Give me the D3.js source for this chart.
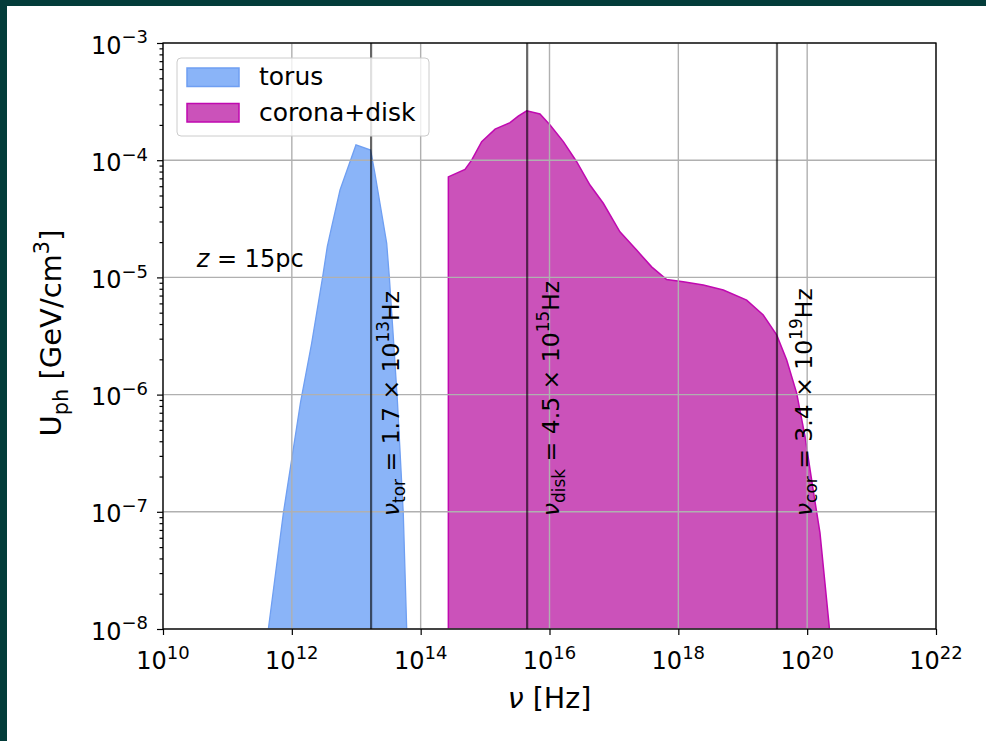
<!DOCTYPE html>
<html><head><meta charset="utf-8">
<script src="https://cdn.jsdelivr.net/npm/d3@7"></script>
<style>
html,body{margin:0;padding:0;background:#fff;}
svg{display:block;font-family:"DejaVu Sans",sans-serif;}
</style></head><body>
<svg id="chart" width="986" height="741"></svg>
<script>
// Photon energy density spectra (upper envelope of each filled band)
const torusNu = [3.7e11, 4.32e11, 7.38e11, 1.36e12, 2.03e12, 3.01e12, 3.55e12, 4.16e12, 5.60e12, 8.00e12, 9.9e12,
                 1.67e13, 1.95e13, 2.48e13, 2.97e13, 3.26e13, 3.76e13, 4.37e13, 5.37e13, 6.07e13, 6.3e13];
const torusU  = [5e-9, 1.0e-8, 9.7e-8, 8.5e-7, 2.74e-6, 1.01e-5, 1.83e-5, 2.71e-5, 5.57e-5, 9.7e-5, 1.35e-4,
                 1.22e-4, 7.7e-5, 3.52e-5, 1.95e-5, 1.01e-5, 3.12e-6, 8.5e-7, 9.7e-8, 1.0e-8, 5e-9];

const coronaNu = [2.69e14, 4.88e14, 6.19e14, 8.85e14, 1.43e15, 2.44e15, 3.27e15, 4.43e15, 7.11e15, 1.02e16,
                  1.64e16, 2.64e16, 4.25e16, 6.84e16, 1.24e17, 2.25e17, 3.85e17, 6.59e17, 1.19e18, 2.44e18,
                  4.99e18, 1.15e19, 2.08e19, 3.36e19, 4.81e19, 6.87e19, 9.25e19, 1.24e20, 1.58e20, 1.89e20,
                  2.20e20, 2.29e20];
const coronaU  = [7.2e-5, 8.35e-5, 1.0e-4, 1.44e-4, 1.84e-4, 2.09e-4, 2.38e-4, 2.64e-4, 2.48e-4, 2.0e-4,
                  1.44e-4, 9.7e-5, 6.14e-5, 4.29e-5, 2.45e-5, 1.71e-5, 1.23e-5, 9.6e-6, 9.2e-6, 8.6e-6,
                  7.8e-6, 6.4e-6, 4.78e-6, 3.23e-6, 1.97e-6, 1.03e-6, 4.4e-7, 1.53e-7, 6.6e-8, 2.45e-8,
                  1.05e-8, 5e-9];

// Characteristic frequencies
const peakNames = ["tor", "disk", "cor"];
const peakNu = [1.7e13, 4.5e15, 3.4e19];
const peakMantissa = ["1.7", "4.5", "3.4"];
const peakExponent = ["13", "15", "19"];
const peakLabelNu = [4.6e13, 1.4e16, 1.17e20];
const peakLabelU = 9.2e-8;

// Axis ticks
const xTicks = [1e10, 1e12, 1e14, 1e16, 1e18, 1e20, 1e22];
const xTickExp = ["10", "12", "14", "16", "18", "20", "22"];
const yTicks = [1e-8, 1e-7, 1e-6, 1e-5, 1e-4, 1e-3];
const yTickExp = ["\u22128", "\u22127", "\u22126", "\u22125", "\u22124", "\u22123"];

const seriesNames = ["torus", "corona+disk"];
const distanceLabel = {nu: 3.33e10, u: 1.22e-5};

const svg = d3.select("#chart");
const W = 986, H = 741;
const L = 163, R = 936, T = 43, B = 629;

// dark page frame on top and left
svg.append("rect").attr("x", 0).attr("y", 0).attr("width", W).attr("height", H).attr("fill", "#033c3a");
svg.append("rect").attr("x", 7).attr("y", 6).attr("width", W - 7).attr("height", H - 6).attr("fill", "#ffffff");

const x = d3.scaleLog().domain([1e10, 1e22]).range([L, R]);
const y = d3.scaleLog().domain([1e-8, 1e-3]).range([B, T]);

svg.append("defs").append("clipPath").attr("id", "plotclip")
  .append("rect").attr("x", L).attr("y", T).attr("width", R - L).attr("height", B - T);

const plot = svg.append("g").attr("clip-path", "url(#plotclip)");

// helper for mathtext-like labels
function mtext(sel, parts, fs, supScale) {
  const sc = supScale || 0.72;
  let shift = 0;
  parts.forEach(p => {
    let target = 0, size = fs;
    if (p.k === "sup") { target = -0.42 * fs; size = sc * fs; }
    else if (p.k === "sub") { target = 0.24 * fs; size = 0.72 * fs; }
    const ts = sel.append("tspan").text(p.t).attr("font-size", size);
    if (target - shift !== 0) ts.attr("dy", target - shift);
    if (p.k === "it") ts.attr("font-style", "italic");
    shift = target;
  });
}

// filled spectra
const floorU = 1e-10;
const area = d3.area().x(d => x(d[0])).y0(y(floorU)).y1(d => y(d[1]));
const torusPts = torusNu.map((v, i) => [v, torusU[i]]);
const coronaPts = coronaNu.map((v, i) => [v, coronaU[i]]);

const torusFill = "#8ab4f8", torusEdge = "#6f9ff2";
const coronaFill = "#cb52ba", coronaEdge = "#c009b0";

plot.append("path").datum(torusPts).attr("d", area)
  .attr("fill", torusFill).attr("stroke", torusEdge).attr("stroke-width", 1.3);
plot.append("path").datum(coronaPts).attr("d", area)
  .attr("fill", coronaFill).attr("stroke", coronaEdge).attr("stroke-width", 1.5);

// grid
const grid = svg.append("g");
xTicks.forEach(v => grid.append("line").attr("x1", x(v)).attr("x2", x(v)).attr("y1", T).attr("y2", B)
  .attr("stroke", "#b0b0b0").attr("stroke-width", 1.4));
yTicks.forEach(v => grid.append("line").attr("x1", L).attr("x2", R).attr("y1", y(v)).attr("y2", y(v))
  .attr("stroke", "#b0b0b0").attr("stroke-width", 1.4));

// vertical markers
peakNu.forEach(v => svg.append("line").attr("x1", x(v)).attr("x2", x(v)).attr("y1", T).attr("y2", B)
  .attr("stroke", "#000").attr("stroke-opacity", 0.6).attr("stroke-width", 2.2));

// marker labels
peakNames.forEach((n, i) => {
  const t = svg.append("text")
    .attr("transform", `translate(${x(peakLabelNu[i])},${y(peakLabelU)}) rotate(-90)`)
    .attr("text-anchor", "start").attr("fill", "#000");
  mtext(t, [{t: "\u03bd", k: "it"}, {t: n, k: "sub"}, {t: " = " + peakMantissa[i] + " \u00d7 10"},
            {t: peakExponent[i], k: "sup"}, {t: "Hz"}], 23.5);
});

// distance annotation
{
  const t = svg.append("text").attr("x", x(distanceLabel.nu)).attr("y", y(distanceLabel.u)).attr("fill", "#000");
  mtext(t, [{t: "z", k: "it"}, {t: " = 15pc"}], 24);
}

// axes
const axB = svg.append("g").attr("transform", `translate(0,${B})`)
  .call(d3.axisBottom(x).tickValues(xTicks).tickFormat("").tickSize(6));
const yMinor = [];
for (let d = -8; d < -3; d++) for (let k = 2; k <= 9; k++) yMinor.push(k * Math.pow(10, d));
const axLm = svg.append("g").attr("transform", `translate(${L},0)`)
  .call(d3.axisLeft(y).tickValues(yMinor).tickFormat("").tickSize(3.5));
const axL = svg.append("g").attr("transform", `translate(${L},0)`)
  .call(d3.axisLeft(y).tickValues(yTicks).tickFormat("").tickSize(6));
[axB, axLm, axL].forEach(a => {
  a.select(".domain").remove();
  a.selectAll(".tick line").attr("stroke", "#000").attr("stroke-width", 1.2);
});

// frame
svg.append("rect").attr("x", L).attr("y", T).attr("width", R - L).attr("height", B - T)
  .attr("fill", "none").attr("stroke", "#000").attr("stroke-width", 1.3);

// tick labels
xTicks.forEach((v, i) => {
  const t = svg.append("text").attr("x", x(v)).attr("y", B + 40).attr("text-anchor", "middle").attr("fill", "#000");
  mtext(t, [{t: "10"}, {t: xTickExp[i], k: "sup"}], 24, 0.75);
});
yTicks.forEach((v, i) => {
  const t = svg.append("text").attr("x", L - 15).attr("y", y(v) + 10.5).attr("text-anchor", "end").attr("fill", "#000");
  mtext(t, [{t: "10"}, {t: yTickExp[i], k: "sup"}], 24, 0.75);
});

// axis titles
{
  const t = svg.append("text").attr("x", (L + R) / 2).attr("y", 708).attr("text-anchor", "middle").attr("fill", "#000");
  mtext(t, [{t: "\u03bd", k: "it"}, {t: " [Hz]"}], 28.5);
  const u = svg.append("text").attr("transform", `translate(61,${333}) rotate(-90)`)
    .attr("text-anchor", "middle").attr("fill", "#000");
  mtext(u, [{t: "U"}, {t: "ph", k: "sub"}, {t: " [GeV/cm"}, {t: "3", k: "sup"}, {t: "]"}], 29);
}

// legend
{
  const g = svg.append("g");
  g.append("rect").attr("x", 177).attr("y", 58).attr("width", 252).attr("height", 78).attr("rx", 4)
    .attr("fill", "#fff").attr("fill-opacity", 0.8).attr("stroke", "#cccccc").attr("stroke-width", 1);
  const fills = [torusFill, coronaFill], edges = [torusEdge, coronaEdge];
  const rowY = [68, 103.5];
  seriesNames.forEach((n, i) => {
    g.append("rect").attr("x", 187).attr("y", rowY[i]).attr("width", 52).attr("height", 18.5)
      .attr("fill", fills[i]).attr("stroke", edges[i]).attr("stroke-width", 1.5);
    g.append("text").attr("x", 259).attr("y", rowY[i] + 17).attr("font-size", 25).attr("fill", "#000").text(n);
  });
}
</script>
</body></html>
